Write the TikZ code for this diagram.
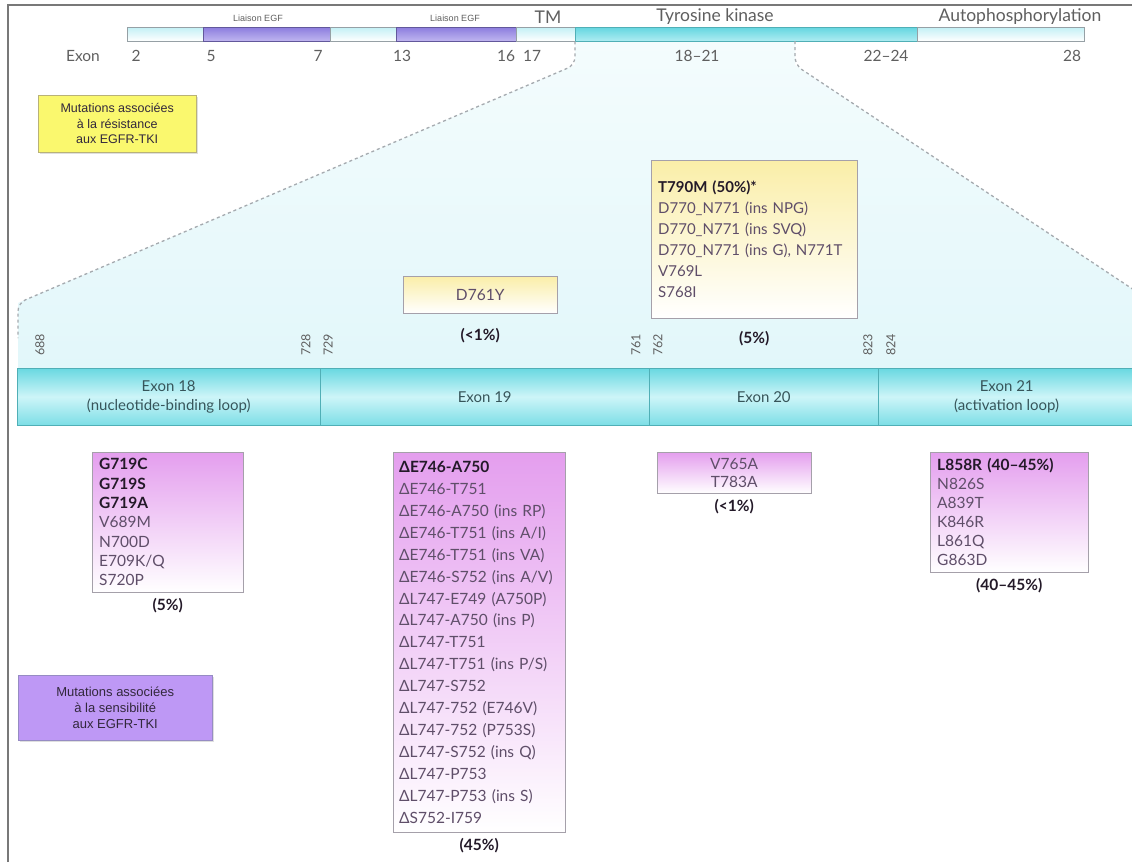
\documentclass[tikz,border=0pt]{standalone}
\usepackage{fontspec}
\setmainfont{Lato}
\newfontfamily\legendfont{Liberation Sans}
\usetikzlibrary{positioning,shadows}
\definecolor{framegray}{RGB}{120,120,120}
\definecolor{txtgray}{RGB}{95,95,95}
\definecolor{txtdark}{RGB}{35,25,40}
\definecolor{mutgray}{RGB}{95,78,105}
\definecolor{exontxt}{RGB}{55,85,90}
\definecolor{exonline}{RGB}{80,175,182}
\definecolor{exontop}{RGB}{105,216,225}
\definecolor{exonmid}{RGB}{205,245,248}
\definecolor{exonbot}{RGB}{125,222,230}
\definecolor{barlight}{RGB}{195,240,245}
\definecolor{barcyan}{RGB}{100,214,224}
\definecolor{barcyanlt}{RGB}{175,236,242}
\definecolor{barpurple}{RGB}{140,125,222}
\definecolor{barpurplelt}{RGB}{192,182,240}
\definecolor{barline}{RGB}{150,160,165}
\definecolor{areatop}{RGB}{244,252,253}
\definecolor{areabot}{RGB}{226,247,250}
\definecolor{dashgray}{RGB}{165,170,175}
\definecolor{mutpurple}{RGB}{228,158,238}
\definecolor{mutborder}{RGB}{165,160,170}
\definecolor{resyellow}{RGB}{250,238,168}
\definecolor{legyellow}{RGB}{250,248,110}
\definecolor{legyellowln}{RGB}{185,178,120}
\definecolor{legpurple}{RGB}{190,152,245}
\definecolor{legpurpleln}{RGB}{150,140,195}
\definecolor{legtxt}{RGB}{50,40,60}
\newcommand{\mutbold}[1]{\textcolor{txtdark}{\bfseries #1}}
\tikzset{
  barseg/.style={anchor=north west, minimum height=14, inner sep=0pt, draw=barline, top color=barlight, bottom color=white},
  egfseg/.style={barseg, draw=barpurple!70!black, top color=barpurple, bottom color=barpurplelt},
  tkseg/.style={barseg, draw=exonline, top color=barcyan, bottom color=barcyanlt},
  toplbl/.style={text=txtgray, font=\fontsize{17.5}{19}\selectfont},
  egflbl/.style={text=txtgray, font=\legendfont\fontsize{9}{10}\selectfont},
  exnum/.style={text=txtgray, font=\fontsize{15.5}{17}\selectfont},
  aanum/.style={text=txtgray, rotate=90, inner sep=1pt, font=\fontsize{12.5}{14}\selectfont},
  exonseg/.style={draw=exonline, top color=exontop, bottom color=exonbot, middle color=exonmid, anchor=north west, minimum height=57, inner sep=0pt, text=exontxt, align=center, font=\fontsize{15}{19}\selectfont},
  mutbox/.style={draw=mutborder, top color=mutpurple, bottom color=white, anchor=north west, align=left, inner ysep=0pt, text=mutgray},
  resbox/.style={mutbox, top color=resyellow},
  freq/.style={text=txtdark, inner sep=1pt, font=\bfseries\fontsize{15.5}{18}\selectfont},
  legbox/.style={anchor=north west, inner sep=0pt, align=center, text=legtxt, drop shadow={opacity=0.25, shadow xshift=1.5pt, shadow yshift=-1.5pt}},
  zoomline/.style={dashgray, line width=1.3pt, dash pattern=on 3pt off 3pt, rounded corners=8pt},
}
\begin{document}
\begin{tikzpicture}[x=1pt,y=-1pt]
\useasboundingbox (0,0) rectangle (1132,862);
\fill[white] (0,0) rectangle (1132,862);
\draw[framegray, line width=2.5pt] (8,862) -- (8,5) -- (1132,5);

\coordinate (zl1) at (575,65);
\coordinate (zl2) at (18,303);
\coordinate (zl3) at (18,338);
\coordinate (zr0) at (795,41);
\coordinate (zr1) at (795,65);
\coordinate (zr2) at (1134,290);
\shade[top color=areatop, bottom color=areabot] (575,41) -- (zl1) -- (zl2) -- (18,368) -- (1134,368) -- (zr2) -- (zr1) -- (zr0) -- cycle;

\node[barseg, minimum width=76] (b1) at (127,27) {};
\node[egfseg, minimum width=127] (b2) at (203,27) {};
\node[barseg, minimum width=66] (b3) at (330,27) {};
\node[egfseg, minimum width=120] (b4) at (396,27) {};
\node[barseg, minimum width=59] (b5) at (516,27) {};
\node[tkseg, minimum width=342] (b6) at (575,27) {};
\node[barseg, minimum width=167] (b7) at (917,27) {};
\draw[zoomline] (b6.south west) -- (zl1) -- (zl2) -- (zl3);
\draw[zoomline] (zr0) -- (zr1) -- (zr2);

\node[egflbl] (egf1) at (258,18) {Liaison EGF};
\node[egflbl] (egf2) at (455,18) {Liaison EGF};
\node[toplbl] (tm) at (548,17) {TM};
\node[toplbl] (tk) at (715,17) {Tyrosine kinase};
\node[toplbl] (auto) at (1020,17) {Autophosphorylation};

\node[exnum] (exw) at (83,56) {Exon};
\node[exnum] (e2) at (136,56) {2};
\node[exnum] (e5) at (211,56) {5};
\node[exnum] (e7) at (318,56) {7};
\node[exnum] (e13) at (402,56) {13};
\node[exnum] (e16) at (506,56) {16};
\node[exnum] (e17) at (532,56) {17};
\node[exnum] (e1821) at (697,56) {18–21};
\node[exnum] (e2224) at (886,56) {22–24};
\node[exnum] (e28) at (1072,56) {28};

\node[legbox, fill=legyellow, draw=legyellowln, minimum width=158, minimum height=57, font=\legendfont\fontsize{12.5}{15.5}\selectfont] (legres) at (38,95) {Mutations associées\\à la résistance\\aux EGFR-TKI};

\node[resbox, text width=140, inner xsep=7, minimum height=37, align=center, font=\fontsize{15.5}{18}\selectfont] (d761) at (403,276) {D761Y};
\node[freq, below=14pt of d761] (fd761) {(<1\%)};
\node[resbox, text width=192, inner xsep=7, minimum height=158, font=\fontsize{15}{21}\selectfont] (t790) at (651,160) {\mutbold{T790M (50\%)*}\\D770\_N771 (ins NPG)\\D770\_N771 (ins SVQ)\\D770\_N771 (ins G), N771T\\V769L\\S768I};
\node[freq, below=12pt of t790] (ft790) {(5\%)};

\node[aanum] (n688) at (40,345) {688};
\node[aanum] (n728) at (306,345) {728};
\node[aanum] (n729) at (328,345) {729};
\node[aanum] (n761) at (636,345) {761};
\node[aanum] (n762) at (658,345) {762};
\node[aanum] (n823) at (868,345) {823};
\node[aanum] (n824) at (891,345) {824};

\node[exonseg, minimum width=303] (ex18) at (17,368) {Exon 18\\(nucleotide-binding loop)};
\node[exonseg, minimum width=329] (ex19) at (320,368) {Exon 19};
\node[exonseg, minimum width=229] (ex20) at (649,368) {Exon 20};
\node[exonseg, minimum width=257] (ex21) at (878,368) {Exon 21\\(activation loop)};

\node[mutbox, text width=137, inner xsep=7, minimum height=140, font=\fontsize{15.5}{19.3}\selectfont] (g719) at (92,452) {\mutbold{G719C}\\\mutbold{G719S}\\\mutbold{G719A}\\V689M\\N700D\\E709K/Q\\S720P};
\node[freq, below=5pt of g719] (fg719) {(5\%)};
\node[mutbox, text width=160, inner xsep=6, minimum height=380, font=\fontsize{15.5}{21.9}\selectfont] (e746) at (393,452) {\mutbold{ΔE746-A750}\\ΔE746-T751\\ΔE746-A750 (ins RP)\\ΔE746-T751 (ins A/I)\\ΔE746-T751 (ins VA)\\ΔE746-S752 (ins A/V)\\ΔL747-E749 (A750P)\\ΔL747-A750 (ins P)\\ΔL747-T751\\ΔL747-T751 (ins P/S)\\ΔL747-S752\\ΔL747-752 (E746V)\\ΔL747-752 (P753S)\\ΔL747-S752 (ins Q)\\ΔL747-P753\\ΔL747-P753 (ins S)\\ΔS752-I759};
\node[freq, below=5pt of e746] (fe746) {(45\%)};
\node[mutbox, text width=140, inner xsep=7, minimum height=41, align=center, font=\fontsize{15.5}{18}\selectfont] (v765) at (657,452) {V765A\\T783A};
\node[freq, below=5pt of v765] (fv765) {(<1\%)};
\node[mutbox, text width=144, inner xsep=7, minimum height=120, font=\fontsize{15.5}{19}\selectfont] (l858) at (930,452) {\mutbold{L858R (40–45\%)}\\N826S\\A839T\\K846R\\L861Q\\G863D};
\node[freq, below=5pt of l858] (fl858) {(40–45\%)};

\node[legbox, fill=legpurple, draw=legpurpleln, minimum width=194, minimum height=65, font=\legendfont\fontsize{13}{16}\selectfont] (legsens) at (18,675) {Mutations associées\\à la sensibilité\\aux EGFR-TKI};
\end{tikzpicture}
\end{document}
